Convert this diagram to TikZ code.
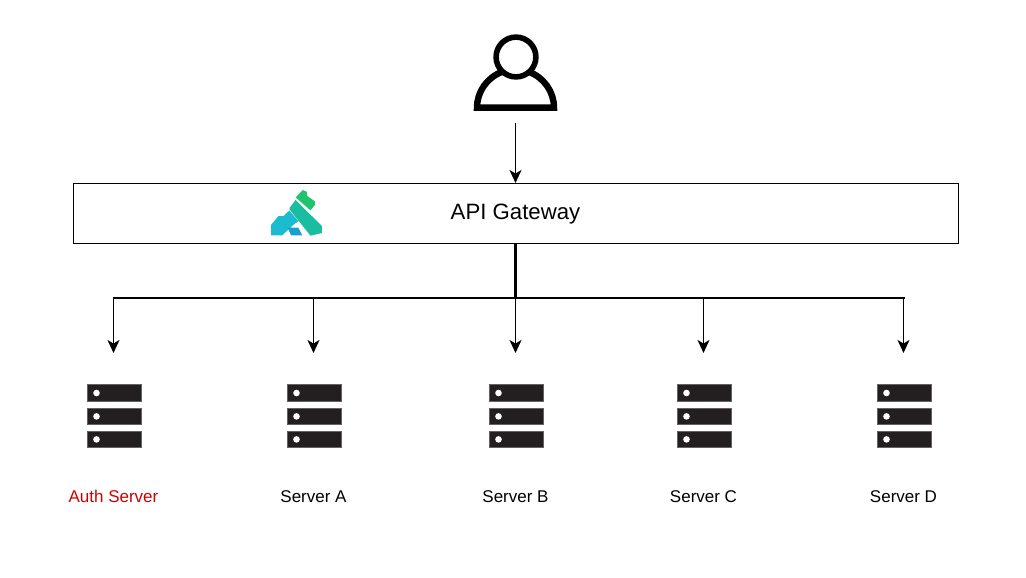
\documentclass[tikz,border=0pt]{standalone}
\usepackage{fontspec}
\setmainfont{Liberation Sans}
\usetikzlibrary{arrows.meta}
\definecolor{rackc}{HTML}{231F20}
\definecolor{authred}{HTML}{CC0000}
\definecolor{logoa}{RGB}{30,196,110}
\definecolor{logob}{RGB}{27,189,160}
\definecolor{logoc}{RGB}{28,188,208}
\definecolor{logod}{RGB}{26,160,207}
\tikzset{
  x=1pt,y=-1pt,
  gatebox/.style={draw=black,line width=1pt,fill=white,minimum width=885.5pt,minimum height=60pt,inner sep=0pt},
  gatetext/.style={font=\fontsize{22.2pt}{24pt}\selectfont,inner sep=0pt},
  srvtext/.style={font=\fontsize{17pt}{20pt}\selectfont,inner sep=0pt,text=black,anchor=base},
  rackbar/.style={fill=rackc,draw=rackc!70!white,line width=.6pt,minimum width=54.4pt,minimum height=16.6pt,inner sep=0pt},
  rackdot/.style={circle,fill=white,minimum size=6.6pt,inner sep=0pt},
  userline/.style={draw=black,line width=6.4pt},
  conn/.style={draw=black,line width=1.7pt,-{Stealth[length=13pt,width=12pt,inset=3.5pt]}},
  trunk/.style={draw=black,line width=3pt},
  bus/.style={draw=black,line width=2.4pt},
}
\newcommand{\rackicon}[2]{%
  \foreach \k/\yy in {1/393,2/416.4,3/439.4}{
    \node[rackbar] (#1\k) at (#2,\yy) {};
    \node[rackdot] (#1d\k) at ([xshift=-18pt]#1\k.center) {};
  }
}
\begin{document}
\begin{tikzpicture}
\useasboundingbox (0,0) rectangle (1026,578);
\fill[white] (0,0) rectangle (1026,578);

% user
\node[circle,draw=black,line width=5.6pt,minimum size=39.8pt,inner sep=0pt] (head) at (516,57) {};
\draw[userline,line join=miter] (502.3,71.8) .. controls (487.1,77.3) and (477,91.8) .. (477,107.6) -- (554,107.6) .. controls (554,91.8) and (543.9,77.3) .. (528.7,71.8);
\coordinate (userfoot) at (515.5,123);

% gateway
\node[gatebox] (gw) at (515.75,213.5) {};
\node[gatetext] (gwtext) at (515.5,214) {API Gateway};

% logo
\fill[logoa] (295.7,197.5) -- (302.8,190) -- (306.7,191.7) -- (307.3,196) -- (314.8,201.3) -- (314.8,205) -- (310.5,210.3) -- cycle;
\fill[logob] (289.5,208) -- (295.5,200) -- (321.9,226) -- (321.9,233) -- (310.5,235.7) -- (289.5,209.5) -- cycle;
\fill[logoc] (271,235.3) -- (271,225) -- (278.3,216.2) -- (283.3,216.2) -- (289.3,210.5) -- (298.5,221.2) -- (294.3,224) -- (282.2,235.3) -- cycle;
\fill[logod] (287.7,227.7) -- (298.3,227.7) -- (302.3,235.3) -- (291,235.3) -- cycle;

% servers
\rackicon{ra}{114.5}
\rackicon{rb}{314.5}
\rackicon{rc}{516.5}
\rackicon{rd}{704.5}
\rackicon{re}{904.5}
\node[srvtext,text=authred] (la) at (113.5,502) {Auth Server};
\node[srvtext] (lb) at (313.5,502) {Server A};
\node[srvtext] (lc) at (515.5,502) {Server B};
\node[srvtext] (ld) at (703.5,502) {Server C};
\node[srvtext] (le) at (903.5,502) {Server D};

% connector anchors
\coordinate (busmid) at (515.5,298);
\coordinate (busl) at (113.5,298);
\coordinate (busb) at (313.5,298);
\coordinate (busd) at (703.5,298);
\coordinate (busr) at (903.5,298);
\coordinate (ta) at (113.5,353);
\coordinate (tb) at (313.5,353);
\coordinate (tc) at (515.5,353);
\coordinate (td) at (703.5,353);
\coordinate (te) at (903.5,353);
\coordinate (gwin) at (515.5,183);
\coordinate (gwout) at (515.5,243.5);

\draw[conn] (userfoot) -- (gwin);
\draw[conn] (busmid) -- (tc);
\draw[conn] (busl) -- (ta);
\draw[conn] (busb) -- (tb);
\draw[conn] (busd) -- (td);
\draw[conn] (busr) -- (te);
\draw[trunk] (gwout) -- (busmid);
\draw[bus] ([xshift=-1pt]busl) -- ([xshift=1pt]busr);
\end{tikzpicture}
\end{document}
